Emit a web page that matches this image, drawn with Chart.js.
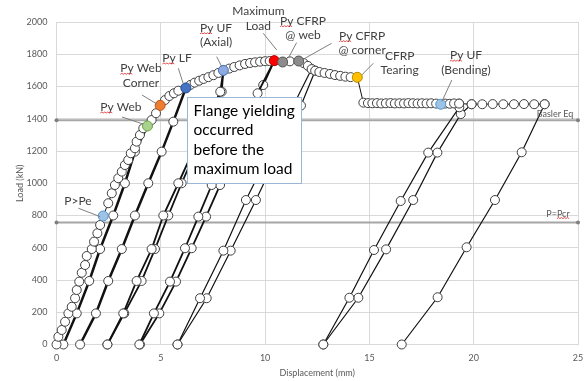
<!DOCTYPE html>
<html>
<head>
<meta charset="utf-8">
<script src="https://cdn.jsdelivr.net/npm/chart.js@4.4.0/dist/chart.umd.min.js"></script>
<style>
  html, body { margin: 0; padding: 0; background: #fff; }
  #wrap { width: 584px; height: 381px; }
</style>
</head>
<body>
<div id="wrap"><canvas id="my-canvas" width="584" height="381"></canvas></div>
<script>
// first loading (envelope), displacement mm / load kN
let env_x = [0, 0.09, 0.25, 0.41, 0.57, 0.73, 0.89, 0.97, 1.09, 1.21,
    1.37, 1.45, 1.69, 1.8, 1.96, 2.09, 2.24, 2.48, 2.65, 2.8,
    2.96, 3.13, 3.28, 3.44, 3.56, 3.76, 3.84, 4.0, 4.16, 4.36,
    4.56, 4.77, 4.97, 5.2, 5.41, 5.63, 5.84, 6.2, 6.42, 6.62,
    6.84, 7.05, 7.28, 7.52, 7.76, 8.0, 8.28, 8.52, 8.78, 9.04,
    9.28, 9.52, 9.76, 10.0, 10.22, 10.44, 10.84, 11.19, 11.61, 11.85,
    12.05, 12.23, 12.4, 12.6, 12.85, 13.11, 13.35, 13.6, 13.85, 14.1,
    14.42, 14.71, 14.93, 15.14, 15.36, 15.57, 15.79, 16.01, 16.22, 16.44,
    16.66, 16.87, 17.09, 17.31, 17.52, 17.74, 17.96, 18.2, 18.42, 18.63,
    18.85, 19.06, 19.3, 19.9, 20.41, 20.91, 21.42, 21.93, 22.41, 22.9,
    23.4];
let env_y = [0, 48, 90, 141, 193, 234, 287, 338, 390, 445,
    493, 549, 592, 638, 690, 741, 797, 876, 938, 989,
    1031, 1072, 1113, 1144, 1186, 1217, 1258, 1299, 1341, 1355,
    1392, 1434, 1483, 1516, 1541, 1558, 1574, 1591, 1610, 1624,
    1636, 1647, 1658, 1670, 1684, 1700, 1711, 1721, 1731, 1740,
    1746, 1750, 1754, 1757, 1758, 1760, 1752, 1756, 1758, 1745,
    1728, 1708, 1698, 1690, 1684, 1678, 1671, 1666, 1661, 1658,
    1657, 1500, 1497, 1496, 1497, 1495, 1496, 1497, 1495, 1496,
    1495, 1497, 1496, 1495, 1496, 1495, 1496, 1494, 1490, 1494,
    1493, 1495, 1494, 1490, 1490, 1491, 1490, 1490, 1491, 1490,
    1490];

// unload / reload cycles
let c1_x = [4.36, 3.76, 3.28, 2.72, 2.09, 1.57, 0.97, 0.33];
let c1_y = [1355, 1196, 1000, 800, 592, 394, 193, 0];
let c2_x = [1.13, 1.89, 2.48, 3.13, 3.76, 4.4, 5.04, 5.6, 6.2];
let c2_y = [0, 193, 394, 592, 800, 1000, 1196, 1382, 1591];
let c3a_x = [2.44, 3.2, 3.84, 4.56, 5.12, 5.84, 7.85, 8.0];
let c3a_y = [0, 193, 394, 592, 800, 1000, 1568, 1700];
let c3b_x = [2.44, 3.25, 4.08, 4.72, 5.36, 6.0, 7.92, 8.0];
let c3b_y = [0, 193, 394, 592, 800, 1000, 1568, 1700];
let c4a_x = [3.97, 4.67, 5.44, 6.16, 6.8, 7.44, 9.64, 10.44];
let c4a_y = [0, 193, 390, 597, 793, 989, 1558, 1760];
let c4b_x = [4.0, 4.93, 5.73, 6.48, 7.17, 7.84, 9.91, 10.44];
let c4b_y = [0, 193, 390, 597, 793, 989, 1609, 1760];
let c5a_x = [12.23, 9.08, 8.0, 6.88, 5.8];
let c5a_y = [1708, 896, 582, 287, 0];
let c5b_x = [5.8, 7.2, 8.35, 9.56, 11.72, 12.4];
let c5b_y = [0, 287, 582, 896, 1482, 1698];
let c6a_x = [19.3, 19.31, 17.82, 16.5, 15.22, 14.04, 12.79];
let c6a_y = [1494, 1471, 1190, 890, 586, 290, 0];
let c6b_x = [12.79, 14.47, 15.8, 17.1, 18.26, 19.38, 19.9];
let c6b_y = [0, 290, 590, 896, 1190, 1429, 1490];
let c7_x = [23.4, 22.3, 21.02, 19.66, 18.27, 16.55];
let c7_y = [1490, 1192, 896, 603, 293, 0];

// highlighted events
let key_names = ['P>Pe', 'Py Web', 'Py Web Corner', 'Py LF', 'Py UF (Axial)', 'Maximum Load',
    'Py CFRP @ web', 'Py CFRP @ corner', 'CFRP Tearing', 'Py UF (Bending)'];
let key_x = [2.24, 4.36, 4.97, 6.2, 8.0, 10.44, 10.84, 11.61, 14.42, 18.42];
let key_y = [797, 1355, 1483, 1591, 1700, 1760, 1752, 1758, 1657, 1490];

// reference loads
let basler_load = 1390;
let pcr_load = 757;

let box_text = ['Flange yielding', 'occurred', 'before the', 'maximum load'];

function pts(xs, ys) {
    let out = [];
    for (let i = 0; i < xs.length; i++) out.push({ x: xs[i], y: ys[i] });
    return out;
}

const key_fill = ['#9dc3e6', '#a9d18e', '#ed7d31', '#4472c4', '#8faadc', '#ff0000', '#8c8c8c', '#8c8c8c', '#ffc000', '#9dc3e6'];
const key_edge = ['#5b9bd5', '#70ad47', '#c55a11', '#2f528f', '#4472c4', '#c00000', '#595959', '#595959', '#bf9000', '#5b9bd5'];

// label blocks: centre in data units, leader from -> to
const notes = [
    { lines: ['P>Pe'], at: [1.03, 890], from: [1.05, 845], to: [2.09, 793] },
    { lines: ['Py Web'], at: [3.09, 1473], from: [3.14, 1411], to: [4.15, 1367], sq: true },
    { lines: ['Py Web', 'Corner'], at: [4.05, 1668], from: [4.1, 1547], to: [4.82, 1491], sq: true },
    { lines: ['Py LF'], at: [5.78, 1777], from: [5.84, 1713], to: [6.08, 1616], sq: true },
    { lines: ['Py UF', '(Axial)'], at: [7.65, 1919], from: [7.68, 1785], to: [7.92, 1723], sq: true },
    { lines: ['Maximum', 'Load'], at: [9.68, 2022], from: [9.91, 1930], to: [10.56, 1826] },
    { lines: ['Py CFRP', '@ web'], at: [11.82, 1963], from: [11.51, 1872], to: [11.11, 1775], sq: true },
    { lines: ['Py CFRP', '@ corner'], at: [14.65, 1870], from: [13.19, 1868], to: [11.91, 1775], sq: true },
    { lines: ['CFRP', 'Tearing'], at: [16.45, 1746], from: [15.19, 1744], to: [14.63, 1671] },
    { lines: ['Py UF', '(Bending)'], at: [19.63, 1749], from: [18.95, 1640], to: [18.47, 1506], sq: true }
];

function squiggle(ctx, x0, x1, y) {
    ctx.save();
    ctx.strokeStyle = '#e02020';
    ctx.lineWidth = 0.8;
    ctx.beginPath();
    ctx.moveTo(x0, y);
    let up = true;
    for (let px = x0 + 1.5; px <= x1; px += 1.5) {
        ctx.lineTo(px, up ? y - 1 : y);
        up = !up;
    }
    ctx.stroke();
    ctx.restore();
}

const notePlugin = {
    id: 'notes',
    afterDatasetsDraw(chart) {
        const { ctx, scales: { x, y } } = chart;
        ctx.save();
        // leader lines
        ctx.strokeStyle = '#7f7f7f';
        ctx.lineWidth = 1;
        notes.forEach(n => {
            ctx.beginPath();
            ctx.moveTo(x.getPixelForValue(n.from[0]), y.getPixelForValue(n.from[1]));
            ctx.lineTo(x.getPixelForValue(n.to[0]), y.getPixelForValue(n.to[1]));
            ctx.stroke();
        });
        // labels
        ctx.font = '12px Lato';
        ctx.textAlign = 'center';
        ctx.textBaseline = 'middle';
        ctx.fillStyle = '#404040';
        const lh = 14.5;
        notes.forEach(n => {
            const cx = x.getPixelForValue(n.at[0]);
            const cy = y.getPixelForValue(n.at[1]);
            n.lines.forEach((t, i) => {
                const ty = cy + (i - (n.lines.length - 1) / 2) * lh;
                ctx.fillText(t, cx, ty);
                if (n.sq && i == 0) {
                    const w = ctx.measureText(t).width;
                    const pw = ctx.measureText('Py').width;
                    squiggle(ctx, cx - w / 2, cx - w / 2 + pw, ty + 6);
                }
            });
        });
        // reference line labels
        ctx.font = '9px Lato';
        ctx.fillStyle = '#595959';
        ctx.fillText('Basler Eq', x.getPixelForValue(23.9), y.getPixelForValue(1429));
        const px = x.getPixelForValue(24.04), py = y.getPixelForValue(809);
        ctx.fillText('P=Pcr', px, py);
        const w = ctx.measureText('P=Pcr').width;
        const pw = ctx.measureText('P=').width;
        squiggle(ctx, px - w / 2 + pw, px + w / 2, py + 4.5);

        // text box
        const bx0 = Math.round(x.getPixelForValue(6.26)) + 0.5;
        const bx1 = Math.round(x.getPixelForValue(11.72)) + 0.5;
        const by0 = Math.round(y.getPixelForValue(1535)) + 0.5;
        const by1 = Math.round(y.getPixelForValue(1001)) + 0.5;
        ctx.fillStyle = '#ffffff';
        ctx.fillRect(bx0, by0, bx1 - bx0, by1 - by0);
        ctx.strokeStyle = '#9bb7d8';
        ctx.lineWidth = 1;
        ctx.strokeRect(bx0, by0, bx1 - bx0, by1 - by0);
        ctx.fillStyle = '#000000';
        ctx.font = '15.5px Lato';
        ctx.textAlign = 'left';
        box_text.forEach((t, i) => ctx.fillText(t, bx0 + 6, by0 + 13 + i * 19.5));
        ctx.restore();
    }
};

function lineSet(xs, ys, width, order) {
    return {
        data: pts(xs, ys),
        showLine: true,
        borderColor: '#111111',
        borderWidth: width,
        pointRadius: 4.5,
        pointBackgroundColor: '#ffffff',
        pointBorderColor: '#3f3f3f',
        pointBorderWidth: 1,
        order: order,
        clip: false
    };
}

let datasets = [];
datasets.push({
    data: pts(key_x, key_y),
    showLine: false,
    pointRadius: 5,
    pointBackgroundColor: key_fill,
    pointBorderColor: key_edge,
    pointBorderWidth: 1,
    order: 0,
    clip: false
});
datasets.push(lineSet(env_x, env_y, 1, 1));
datasets.push(lineSet(c1_x, c1_y, 2.5, 2));
datasets.push(lineSet(c2_x, c2_y, 2.5, 2));
datasets.push(lineSet(c3a_x, c3a_y, 1.8, 2));
datasets.push(lineSet(c3b_x, c3b_y, 1.8, 2));
datasets.push(lineSet(c4a_x, c4a_y, 1.8, 2));
datasets.push(lineSet(c4b_x, c4b_y, 1.8, 2));
datasets.push(lineSet(c5a_x, c5a_y, 1.2, 2));
datasets.push(lineSet(c5b_x, c5b_y, 1.2, 2));
datasets.push(lineSet(c6a_x, c6a_y, 1.2, 2));
datasets.push(lineSet(c6b_x, c6b_y, 1.2, 2));
datasets.push(lineSet(c7_x, c7_y, 1.2, 2));
[basler_load, pcr_load].forEach(v => {
    datasets.push({
        data: [{ x: 0, y: v }, { x: 25, y: v }],
        showLine: true,
        borderColor: '#a6a6a6',
        borderWidth: 2,
        pointRadius: 2,
        pointBackgroundColor: '#808080',
        pointBorderWidth: 0,
        order: 3,
        clip: false
    });
});

const tickFont = { family: 'Lato', size: 9 };
let ctx = document.getElementById('my-canvas');
var chart = new Chart(ctx, {
    type: 'scatter',
    data: { datasets: datasets },
    options: {
        responsive: false,
        animation: false,
        events: [],
        layout: { padding: { top: 22, right: 6, left: 0, bottom: 0 } },
        plugins: { legend: { display: false }, tooltip: { enabled: false } },
        scales: {
            x: {
                type: 'linear', min: 0, max: 25,
                ticks: { stepSize: 5, padding: 8, color: '#595959', font: tickFont },
                grid: { color: '#d9d9d9', drawTicks: false },
                border: { display: false },
                title: { display: true, text: 'Displacement (mm)', color: '#595959', font: tickFont, padding: { top: 0, bottom: 3 } },
                afterFit: s => { s.height = 36.5; s.paddingLeft = 0; s.paddingRight = 0; }
            },
            y: {
                type: 'linear', min: 0, max: 2000,
                ticks: { stepSize: 200, padding: 9, color: '#595959', font: tickFont, callback: v => String(v) },
                grid: { color: '#d9d9d9', drawTicks: false },
                border: { display: false },
                title: { display: true, text: 'Load (kN)', color: '#595959', font: tickFont, padding: { top: 14.5, bottom: 0 } },
                afterFit: s => { s.width = 56.5; s.paddingTop = 0; s.paddingBottom = 0; }
            }
        }
    },
    plugins: [notePlugin]
});
</script>
</body>
</html>
